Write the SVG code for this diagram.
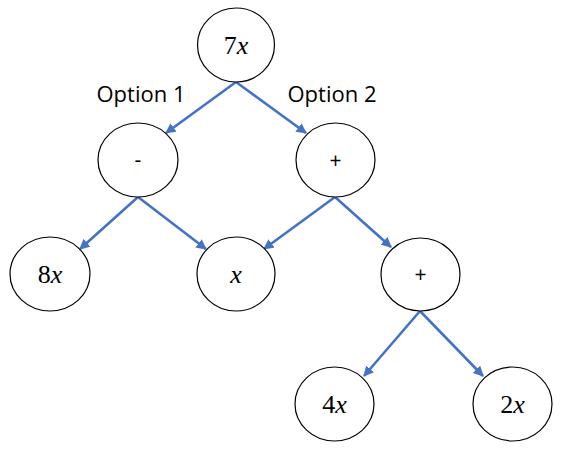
<svg xmlns="http://www.w3.org/2000/svg" width="575" height="465" viewBox="0 0 575 465">
<defs>
<style>
.node{fill:#fff;stroke:#000;stroke-width:1.2}
.edge{stroke:#4472C4;stroke-width:2.6;fill:none;marker-end:url(#ah)}
.m{font-family:"Liberation Serif","DejaVu Serif",serif;font-size:26px;text-anchor:middle}
.m .i{font-style:italic}
.op{font-family:"Open Sans","Liberation Sans",sans-serif;font-size:21px;text-anchor:middle}
.lbl{font-family:"Open Sans","Liberation Sans",sans-serif;font-size:22px;text-anchor:middle}
</style>
<marker id="ah" viewBox="0 0 10 10" refX="9" refY="5" markerWidth="4" markerHeight="4" orient="auto" markerUnits="strokeWidth">
<path d="M0,0 L10,5 L0,10 z" fill="#4472C4"/>
</marker>
</defs>
<rect width="575" height="465" fill="#fff"/>
<g id="connectors">
<line class="edge" x1="236" y1="82" x2="166" y2="133"/>
<line class="edge" x1="236" y1="82" x2="306" y2="133"/>
<line class="edge" x1="138" y1="197" x2="80" y2="249"/>
<line class="edge" x1="138" y1="197" x2="206" y2="249"/>
<line class="edge" x1="335" y1="197" x2="264" y2="249"/>
<line class="edge" x1="335" y1="197" x2="391" y2="247"/>
<line class="edge" x1="420" y1="311" x2="364" y2="376"/>
<line class="edge" x1="420" y1="311" x2="483" y2="376"/>
</g>
<g id="labels">
<text class="lbl" x="141" y="102">Option 1</text>
<text class="lbl" x="332" y="102">Option 2</text>
</g>
<g id="n7x"><ellipse class="node" cx="236" cy="45" rx="38.5" ry="37"/><text class="m" x="236" y="54">7<tspan class="i">x</tspan></text></g>
<g id="nminus"><ellipse class="node" cx="138" cy="160" rx="40" ry="37"/><text class="op" x="138" y="167">-</text></g>
<g id="nplus1"><ellipse class="node" cx="335.5" cy="160" rx="39.5" ry="37"/><text class="op" x="335.5" y="168">+</text></g>
<g id="n8x"><ellipse class="node" cx="50" cy="274" rx="40" ry="37"/><text class="m" x="50" y="283">8<tspan class="i">x</tspan></text></g>
<g id="nx"><ellipse class="node" cx="236" cy="274" rx="39" ry="37"/><text class="m" x="236" y="283"><tspan class="i">x</tspan></text></g>
<g id="nplus2"><ellipse class="node" cx="420.5" cy="274.5" rx="39.5" ry="36.5"/><text class="op" x="420.5" y="282">+</text></g>
<g id="n4x"><ellipse class="node" cx="334.5" cy="404" rx="39.5" ry="37"/><text class="m" x="334.5" y="413">4<tspan class="i">x</tspan></text></g>
<g id="n2x"><ellipse class="node" cx="512.5" cy="404" rx="39.5" ry="37"/><text class="m" x="512.5" y="413">2<tspan class="i">x</tspan></text></g>
</svg>
